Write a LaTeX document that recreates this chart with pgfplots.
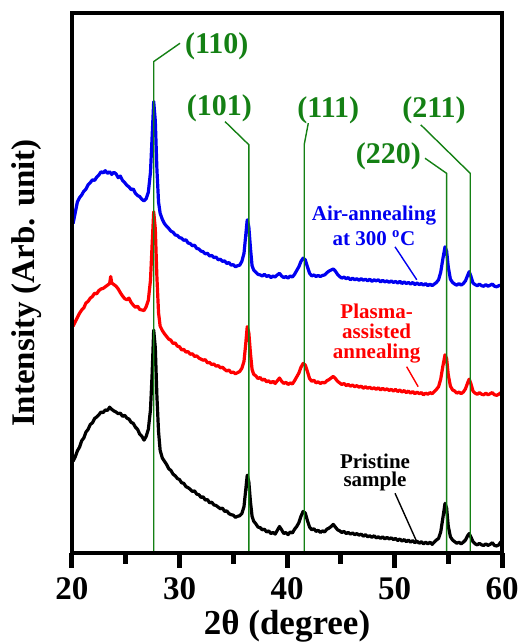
\documentclass[border=0pt]{standalone}
\usepackage{fontspec}
\setmainfont{Liberation Serif}
\usepackage{pgfplots}
\pgfplotsset{compat=1.18}
\usepackage{pgfplotstable}
\definecolor{pkgreen}{RGB}{20,128,20}
\definecolor{pkblue}{RGB}{0,0,240}
\definecolor{pkred}{RGB}{255,0,0}

\pgfplotstableread{
x y
20.1 17.0
20.3 17.8
20.5 18.9
20.7 19.6
20.9 20.8
21.1 21.3
21.3 22.4
21.5 22.9
21.7 23.8
21.9 24.1
22.1 24.9
22.3 25.2
22.5 25.6
22.7 26.1
22.9 26.0
23.1 26.5
23.3 26.4
23.5 27.0
23.7 26.6
23.9 26.3
24.1 26.1
24.3 25.8
24.5 25.9
24.7 25.3
24.9 25.5
25.1 25.0
25.3 24.8
25.5 24.2
25.7 24.0
25.9 23.3
26.1 22.9
26.3 22.0
26.5 21.6
26.7 20.9
26.9 21.6
27.1 22.9
27.3 26.5
27.45 33
27.6 41.3
27.75 38
27.9 29
28.05 22.5
28.2 19.0
28.4 17.6
28.6 17.0
28.8 16.4
29.0 15.6
29.2 15.3
29.4 14.6
29.6 14.3
29.8 13.8
30.0 13.6
30.2 13.0
30.4 12.9
30.6 12.3
30.8 12.1
31.0 11.8
31.2 11.4
31.4 11.5
31.6 10.9
31.8 10.8
32.0 10.3
32.2 10.4
32.4 9.8
32.6 9.9
32.8 9.3
33.0 9.4
33.2 8.9
33.4 8.8
33.6 8.5
33.8 8.2
34.0 8.3
34.2 7.7
34.4 7.8
34.6 7.3
34.8 7.1
35.0 7.0
35.2 6.6
35.4 6.8
35.6 6.9
35.8 7.3
36.0 8.6
36.15 11.5
36.3 14.4
36.45 13.2
36.6 9.5
36.75 6.8
36.9 5.9
37.1 5.4
37.3 4.8
37.5 4.7
37.7 4.3
37.9 4.4
38.1 3.9
38.3 4.1
38.5 3.6
38.7 3.8
38.9 3.5
39.1 4.2
39.3 4.9
39.5 4.3
39.7 3.6
39.9 3.8
40.1 3.4
40.3 3.9
40.5 3.7
40.7 4.4
40.9 4.9
41.1 5.6
41.3 6.8
41.5 7.7
41.7 7.4
41.9 6.0
42.1 4.8
42.3 4.3
42.5 4.5
42.7 4.0
42.9 4.2
43.1 3.8
43.3 4.1
43.5 3.9
43.7 4.4
43.9 4.6
44.1 4.9
44.3 5.3
44.5 4.8
44.7 4.3
44.9 4.1
45.1 3.8
45.3 4.0
45.5 3.6
45.7 3.8
45.9 3.5
46.1 3.7
46.3 3.4
46.5 3.6
46.7 3.3
46.9 3.5
47.1 3.1
47.3 3.4
47.5 3.0
47.7 3.2
47.9 2.9
48.1 3.2
48.3 2.8
48.5 3.0
48.7 2.7
48.9 3.0
49.1 2.6
49.3 2.9
49.5 2.6
49.7 2.8
49.9 2.5
50.1 2.7
50.3 2.3
50.5 2.6
50.7 2.2
50.9 2.5
51.1 2.1
51.3 2.4
51.5 2.0
51.7 2.3
51.9 1.9
52.1 2.2
52.3 1.8
52.5 2.1
52.7 1.7
52.9 2.0
53.1 1.7
53.3 2.0
53.5 1.6
53.7 2.0
53.9 2.4
54.1 2.7
54.3 3.9
54.5 6.5
54.7 9.2
54.85 8.3
55.0 5.0
55.2 3.0
55.4 2.4
55.6 2.1
55.8 1.8
56.0 2.0
56.2 1.7
56.4 2.0
56.6 2.4
56.8 3.2
56.95 3.6
57.1 3.0
57.3 2.1
57.5 1.7
57.7 1.5
57.9 1.8
58.1 1.5
58.3 1.4
58.5 1.7
58.7 1.4
58.9 1.6
59.1 1.9
59.3 1.4
59.5 1.3
59.7 1.5
59.9 2.1
}\pristine

\pgfplotstableread{
x y
20.1 42.0
20.3 42.8
20.5 43.6
20.7 44.4
20.9 45.0
21.1 45.4
21.3 46.3
21.5 46.6
21.7 47.2
21.9 47.5
22.1 48.1
22.3 48.0
22.5 48.6
22.7 48.9
22.9 49.0
23.1 49.3
23.3 49.6
23.5 49.9
23.6 51.2
23.7 50.0
23.9 49.7
24.1 49.4
24.3 48.9
24.5 48.2
24.7 47.6
24.9 47.1
25.1 46.9
25.3 47.2
25.5 46.4
25.7 45.9
25.9 45.5
26.1 45.7
26.3 45.1
26.5 45.0
26.7 44.9
26.9 45.6
27.1 46.8
27.3 50.5
27.45 57
27.6 63.2
27.75 60
27.9 51
28.05 44.5
28.2 42.0
28.4 41.2
28.6 40.6
28.8 40.1
29.0 39.6
29.2 39.4
29.4 38.8
29.6 38.9
29.8 38.3
30.0 38.2
30.2 37.6
30.4 37.7
30.6 37.2
30.8 37.3
31.0 36.8
31.2 36.9
31.4 36.4
31.6 36.5
31.8 36.1
32.0 35.9
32.2 35.7
32.4 35.8
32.6 35.2
32.8 35.3
33.0 34.9
33.2 35.0
33.4 34.6
33.6 34.7
33.8 34.3
34.0 34.4
34.2 34.0
34.4 33.7
34.6 33.9
34.8 33.4
35.0 33.5
35.2 33.2
35.4 33.4
35.6 33.6
35.8 34.2
36.0 35.5
36.15 38.5
36.3 41.9
36.45 40.8
36.6 37.0
36.75 34.0
36.9 33.1
37.1 32.8
37.3 32.3
37.5 32.5
37.7 32.0
37.9 32.2
38.1 31.7
38.3 31.9
38.5 31.5
38.7 31.8
38.9 31.4
39.1 31.9
39.3 32.4
39.5 31.8
39.7 31.4
39.9 31.6
40.1 31.2
40.3 31.5
40.5 31.3
40.7 31.9
40.9 32.6
41.1 33.3
41.3 34.4
41.5 35.1
41.7 34.8
41.9 33.6
42.1 32.3
42.3 31.8
42.5 32.0
42.7 31.5
42.9 31.7
43.1 31.4
43.3 31.6
43.5 31.5
43.7 31.9
43.9 32.1
44.1 32.4
44.3 32.7
44.5 32.3
44.7 31.8
44.9 31.5
45.1 31.2
45.3 31.4
45.5 31.0
45.7 31.2
45.9 30.9
46.1 31.1
46.3 30.8
46.5 31.0
46.7 30.7
46.9 30.9
47.1 30.5
47.3 30.8
47.5 30.5
47.7 30.7
47.9 30.4
48.1 30.6
48.3 30.3
48.5 30.6
48.7 30.2
48.9 30.5
49.1 30.2
49.3 30.4
49.5 30.1
49.7 30.3
49.9 30.0
50.1 30.3
50.3 29.9
50.5 30.2
50.7 29.8
50.9 30.1
51.1 29.7
51.3 30.0
51.5 29.6
51.7 29.9
51.9 29.5
52.1 29.8
52.3 29.5
52.5 29.7
52.7 29.3
52.9 29.6
53.1 29.4
53.3 29.7
53.5 29.5
53.7 29.9
53.9 30.3
54.1 30.8
54.3 32.2
54.5 34.6
54.7 36.7
54.85 36.0
55.0 33.0
55.2 30.9
55.4 30.2
55.6 30.0
55.8 29.6
56.0 29.8
56.2 29.5
56.4 29.8
56.6 30.4
56.8 31.5
56.95 32.2
57.1 31.4
57.3 30.0
57.5 29.6
57.7 29.4
57.9 29.7
58.1 29.4
58.3 29.3
58.5 29.6
58.7 29.3
58.9 29.5
59.1 29.7
59.3 29.3
59.5 29.2
59.7 29.4
59.9 29.7
}\plasma

\pgfplotstableread{
x y
20.1 61.0
20.3 63.0
20.5 65.0
20.7 65.8
20.9 66.3
21.1 67.0
21.3 67.4
21.5 68.2
21.7 68.6
21.9 69.1
22.1 69.0
22.3 69.6
22.5 70.0
22.7 70.6
22.9 70.4
23.1 70.8
23.3 70.3
23.5 70.6
23.7 70.1
23.9 70.5
24.1 70.2
24.3 69.5
24.5 69.8
24.7 69.0
24.9 68.6
25.1 68.1
25.3 67.8
25.5 67.3
25.7 67.4
25.9 66.6
26.1 66.2
26.3 66.0
26.5 65.5
26.7 65.2
26.9 65.6
27.1 66.8
27.3 70.5
27.45 77
27.6 83.6
27.75 80
27.9 71
28.05 65.0
28.2 62.9
28.4 61.8
28.6 61.0
28.8 60.5
29.0 60.1
29.2 59.6
29.4 59.4
29.6 58.9
29.8 58.8
30.0 58.4
30.2 58.3
30.4 57.9
30.6 58.0
30.8 57.4
31.0 57.3
31.2 56.9
31.4 57.0
31.6 56.4
31.8 56.3
32.0 55.9
32.2 55.8
32.4 55.4
32.6 55.5
32.8 55.0
33.0 55.1
33.2 54.7
33.4 54.8
33.6 54.3
33.8 54.4
34.0 54.0
34.2 54.1
34.4 53.6
34.6 53.8
34.8 53.3
35.0 53.4
35.2 53.0
35.4 53.2
35.6 53.3
35.8 54.0
36.0 55.5
36.15 58.6
36.3 61.7
36.45 60.4
36.6 56.5
36.75 53.2
36.9 52.4
37.1 52.0
37.3 51.6
37.5 51.5
37.7 51.3
37.9 51.6
38.1 51.2
38.3 51.4
38.5 51.0
38.7 51.3
38.9 51.1
39.1 51.5
39.3 51.8
39.5 51.3
39.7 51.0
39.9 51.2
40.1 50.9
40.3 51.3
40.5 51.1
40.7 51.6
40.9 52.3
41.1 53.0
41.3 54.0
41.5 54.6
41.7 54.3
41.9 53.0
42.1 51.8
42.3 51.3
42.5 51.5
42.7 51.2
42.9 51.4
43.1 51.2
43.3 51.4
43.5 51.5
43.7 51.9
43.9 52.2
44.1 52.4
44.3 52.6
44.5 52.2
44.7 51.6
44.9 51.2
45.1 50.9
45.3 51.1
45.5 50.8
45.7 51.0
45.9 50.6
46.1 50.9
46.3 50.6
46.5 50.8
46.7 50.5
46.9 50.8
47.1 50.5
47.3 50.7
47.5 50.4
47.7 50.7
47.9 50.3
48.1 50.6
48.3 50.4
48.5 50.6
48.7 50.2
48.9 50.5
49.1 50.2
49.3 50.4
49.5 50.1
49.7 50.4
49.9 50.1
50.1 50.3
50.3 50.0
50.5 50.3
50.7 49.9
50.9 50.2
51.1 49.9
51.3 50.1
51.5 49.8
51.7 50.1
51.9 49.7
52.1 50.0
52.3 49.7
52.5 49.9
52.7 49.6
52.9 49.9
53.1 49.5
53.3 49.8
53.5 49.5
53.7 49.8
53.9 50.1
54.1 50.6
54.3 52.0
54.5 54.5
54.7 56.7
54.85 55.9
55.0 53.0
55.2 50.7
55.4 50.1
55.6 49.8
55.8 49.6
56.0 49.9
56.2 49.6
56.4 49.9
56.6 50.4
56.8 51.4
56.95 52.1
57.1 51.3
57.3 50.0
57.5 49.7
57.7 49.5
57.9 49.8
58.1 49.5
58.3 49.4
58.5 49.7
58.7 49.4
58.9 49.6
59.1 49.8
59.3 49.4
59.5 49.3
59.7 49.5
59.9 49.6
}\air

\begin{document}
\begin{tikzpicture}
\begin{axis}[
  scale only axis, width=430pt, height=540pt,
  xmin=20, xmax=60, ymin=0, ymax=100,
  clip=false,
  axis line style={line width=4.5pt},
  xtick={20,30,40,50,60}, minor xtick={25,35,45,55}, ytick=\empty,
  tick align=outside, xtick pos=left,
  major tick length=15pt, minor tick length=11pt,
  xtick style={line width=5pt, black},
  /pgf/number format/assume math mode=true,
  xticklabel style={font=\fontsize{33}{36}\selectfont\bfseries, yshift=-6pt},
  xlabel={2θ (degree)}, ylabel={Intensity (Arb. unit)},
  xlabel style={font=\fontsize{35}{40}\selectfont\bfseries, yshift=-3pt},
  ylabel style={font=\fontsize{33}{36}\selectfont\bfseries, yshift=12pt},
]
\coordinate (O) at (rel axis cs:0,0);
\addplot[black, line width=3.2pt, line join=round] table[x=x,y=y] {\pristine};
\addplot[pkred, line width=3.2pt, line join=round] table[x=x,y=y] {\plasma};
\addplot[pkblue, line width=3.2pt, line join=round] table[x=x,y=y] {\air};
\addplot[pkgreen, line width=1.4pt] coordinates {(27.6,0) (27.6,91.0) (30.05,94.4)};
\addplot[pkgreen, line width=1.4pt] coordinates {(36.45,0) (36.45,75.6) (34.23,79.9)};
\addplot[pkgreen, line width=1.4pt] coordinates {(41.6,0) (41.6,75.6) (41.98,79.6)};
\addplot[pkgreen, line width=1.4pt] coordinates {(54.85,0) (54.85,70.3) (52.84,73.1)};
\addplot[pkgreen, line width=1.4pt] coordinates {(57.05,0) (57.05,70.3) (52.44,79.3)};
\addplot[pkblue, line width=1.4pt] coordinates {(50.05,56.7) (52.07,50.6)};
\addplot[pkred, line width=1.4pt] coordinates {(51.13,34.5) (52.2,30.8)};
\addplot[black, line width=1.4pt] coordinates {(50.05,11.06) (52.07,2.09)};
\begin{scope}[every node/.style={font=\fontsize{30}{32}\selectfont\bfseries, text=pkgreen, inner sep=0pt}]
\node at (axis cs:33.46,93.8) {(110)};
\node at (axis cs:33.7,82.3) {(101)};
\node at (axis cs:43.84,82.0) {(111)};
\node at (axis cs:49.43,73.4) {(220)};
\node at (axis cs:53.67,82.0) {(211)};
\end{scope}
\node[font=\fontsize{21}{25}\selectfont\bfseries, text=pkblue, align=center, inner sep=0pt] at (axis cs:48.09,60.6) {Air-annealing\\at 300 \textsuperscript{o}C};
\node[font=\fontsize{21}{20}\selectfont\bfseries, text=pkred, align=center, inner sep=0pt] at (axis cs:48.34,40.7) {Plasma-\\assisted\\annealing};
\node[font=\fontsize{21}{18}\selectfont\bfseries, text=black, align=center, inner sep=0pt] at (axis cs:48.19,15.0) {Pristine\\sample};
\end{axis}
\fill[black] (O) ++(-2.25pt,537.75pt) rectangle ++(434.5pt,4.5pt);
\fill[black] (O) ++(427.75pt,-2.25pt) rectangle ++(4.5pt,544.5pt);
\fill[black] (O) ++(-2.25pt,-2.25pt) rectangle ++(4.5pt,544.5pt);
\fill[black] (O) ++(-2.25pt,-2.25pt) rectangle ++(434.5pt,4.5pt);
\pgfresetboundingbox
\path (O) ++(-72pt,-89pt) rectangle ++(519pt,642pt);
\end{tikzpicture}
\end{document}
